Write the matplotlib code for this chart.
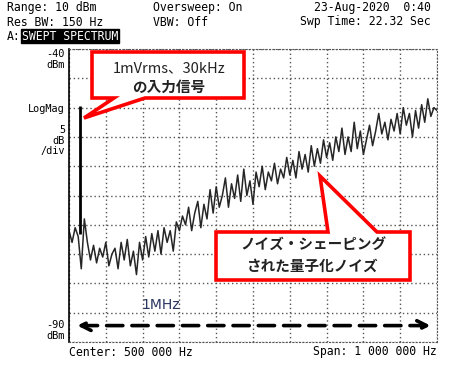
import numpy as np
import matplotlib
matplotlib.use("Agg")
import matplotlib.pyplot as plt
from matplotlib.patches import Polygon

# swept spectrum trace, 0..1 MHz, 121 points (dBm)
freq_mhz = np.linspace(0, 1, 121)
level_dbm = [
    -71, -73, -70.5, -72, -77.5, -69, -73, -76, -73.5, -76.5,
    -74, -75.5, -73, -77, -75, -74, -77.5, -73, -76, -72.5,
    -77, -74.5, -78.5, -73, -76, -72, -75.5, -71.5, -74.5, -71,
    -75, -70.5, -73, -71, -74.5, -69.5, -71, -68.5, -70, -67,
    -71, -68, -66, -70.5, -66.5, -69, -64, -68, -63.5, -67,
    -65, -62, -67, -63, -65.5, -61.5, -66, -60.5, -65, -62.5,
    -66.5, -61, -63.5, -60, -64, -61, -62.5, -59.5, -63, -60.5,
    -62, -58.5, -61.5, -59, -62, -57.5, -60.5, -58, -61, -56.5,
    -60, -57, -59.5, -55.5, -58.5, -56, -59, -55, -57.5, -53.5,
    -58, -55, -57.5, -52.5, -57, -54, -58, -55.5, -53, -56.5,
    -54, -51, -54.5, -52.5, -55.5, -52, -54, -51, -54.5, -50,
    -53, -51, -55, -50.5, -53.5, -49.5, -52.5, -48.5, -51.5, -50,
    -50.5,
]
signal_mhz = 0.03
signal_dbm = -49.7
signal_base = -71.5

ref_level = -40
db_per_div = 5

W, H = 450, 365
fig = plt.figure(figsize=(W / 100, H / 100), dpi=100)
ax = fig.add_axes([69 / W, 1 - 342 / H, 368 / W, 293 / H])

def px(x, y):
    return x / W, 1 - y / H

ax.plot(freq_mhz, level_dbm, color="#262626", lw=1.1)
ax.vlines(signal_mhz, signal_base, signal_dbm, color="black", lw=2)

ax.set_xlim(0, 1)
ax.set_ylim(ref_level - 10 * db_per_div, ref_level)
ax.set_xticks(np.linspace(0, 1, 11))
ax.set_yticks(np.arange(ref_level - 10 * db_per_div, ref_level + 1, db_per_div))
ax.tick_params(length=0, labelbottom=False, labelleft=False)
ax.grid(True, color="#555555", lw=1, linestyle=(0, (1, 2)))
for s in ["top", "right", "bottom"]:
    ax.spines[s].set_linestyle((0, (1, 2)))
    ax.spines[s].set_color("#555555")
ax.spines["left"].set_linewidth(1.2)

mono = dict(family="DejaVu Sans Mono", fontsize=8.3, color="black")
fig.text(*px(7, 8), "Range: 10 dBm", va="center", **mono)
fig.text(*px(7, 22), "Res BW: 150 Hz", va="center", **mono)
fig.text(*px(153, 8), "Oversweep: On", va="center", **mono)
fig.text(*px(153, 22), "VBW: Off", va="center", **mono)
fig.text(*px(431, 8), "23-Aug-2020  0:40", va="center", ha="right", **mono)
fig.text(*px(431, 22), "Swp Time: 22.32 Sec", va="center", ha="right", **mono)
fig.text(*px(7, 36), "A:", va="center", **mono)
fig.text(*px(22, 36), "SWEPT SPECTRUM", va="center",
         family="DejaVu Sans Mono", fontsize=8.3, color="white",
         bbox=dict(facecolor="black", edgecolor="black", pad=0.6))

small = dict(family="DejaVu Sans Mono", fontsize=7.4, color="black")
for y, t in [(54, "-40"), (65, "dBm"), (109, "LogMag"), (130, "5"),
             (140.5, "dB"), (151, "/div"), (325, "-90"), (336, "dBm")]:
    fig.text(*px(65, y), t, va="center", ha="right", **small)
fig.text(*px(69, 352), "Center: 500 000 Hz", va="center", **mono)
fig.text(*px(437, 352), "Span: 1 000 000 Hz", va="center", ha="right", **mono)

cjk = ["Noto Sans CJK JP", "DejaVu Sans"]

# callout 1
c1 = [(92, 52), (244, 52), (244, 98), (145, 98), (84, 118), (114, 98), (92, 98)]
fig.patches.append(Polygon([px(*p) for p in c1], closed=True, transform=fig.transFigure,
                           facecolor="white", edgecolor="#ff0000", lw=2.6, zorder=5))
fig.text(*px(169, 68), "1mVrms、30kHz", ha="center", va="center", family=cjk,
         fontsize=10.5, color="#222222", zorder=6)
fig.text(*px(169, 87), "の入力信号", ha="center", va="center", family=cjk,
         fontsize=10.5, fontweight="bold", color="#222222", zorder=6)

# callout 2
c2 = [(216, 232), (328, 232), (320, 176), (377, 232), (410, 232), (410, 280), (216, 280)]
fig.patches.append(Polygon([px(*p) for p in c2], closed=True, transform=fig.transFigure,
                           facecolor="white", edgecolor="#ff0000", lw=2.6, zorder=5))
fig.text(*px(313, 245), "ノイズ・シェーピング", ha="center", va="center", family=cjk,
         fontsize=10.5, fontweight="bold", color="#222222", zorder=6)
fig.text(*px(313, 266), "された量子化ノイズ", ha="center", va="center", family=cjk,
         fontsize=10.5, fontweight="bold", color="#222222", zorder=6)

fig.text(*px(161, 305), "1MHz", ha="center", va="center", family="DejaVu Sans",
         fontsize=10, color="#2a3560")

# dashed span arrow
ax.annotate("", xy=(0.99, -87.2), xytext=(0.015, -87.2),
            arrowprops=dict(arrowstyle="<->,head_length=0.7,head_width=0.35",
                            lw=2.6, color="black", linestyle=(0, (4.5, 2.5))))

fig.savefig("out.png", dpi=100)
